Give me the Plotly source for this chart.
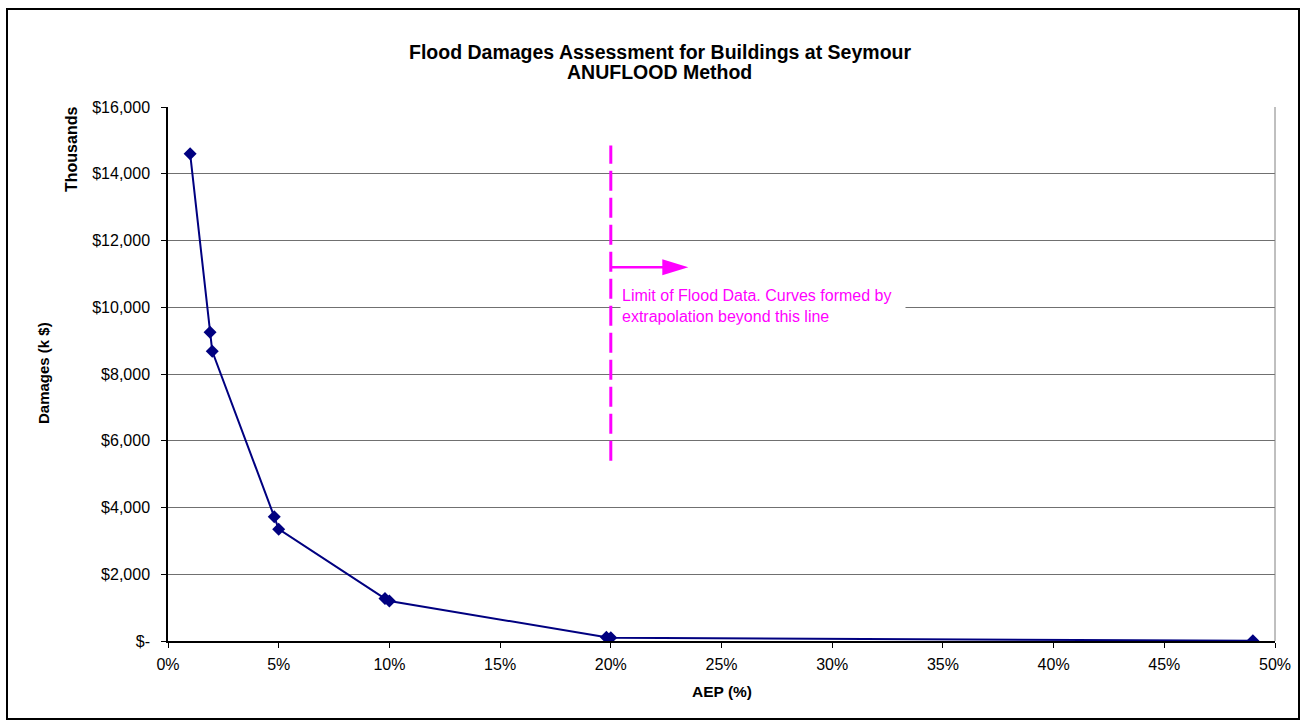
import plotly.graph_objects as go

# Annual exceedance probability (%) and building damages (thousands of $)
aep_pct = [1.0, 1.9, 2.0, 4.8, 5.0, 9.8, 10.0, 19.8, 20.0, 49.0]
damages_k = [14600, 9250, 8680, 3720, 3350, 1270, 1200, 110, 100, 5]

x_tick_vals = [0, 5, 10, 15, 20, 25, 30, 35, 40, 45, 50]
x_tick_text = ["0%", "5%", "10%", "15%", "20%", "25%", "30%", "35%", "40%", "45%", "50%"]
y_tick_vals = [0, 2000, 4000, 6000, 8000, 10000, 12000, 14000, 16000]
y_tick_text = ["$-", "$2,000", "$4,000", "$6,000", "$8,000", "$10,000", "$12,000", "$14,000", "$16,000"]

# Limit of recorded flood data and its marker line / arrow (data units)
limit_aep = 20
limit_line_span = [5400, 14850]
arrow_level = 11200
arrow_tip_aep = 23.5
note_level = 10050
note_text = "Limit of Flood Data. Curves formed by<br>extrapolation beyond this line"

W, H = 1305, 724
ML, MR, MT, MB = 168, 30, 107, 83
PW, PH = W - ML - MR, H - MT - MB


def px_x(px):
    return (px - ML) / PW


def px_y(py):
    return (H - MB - py) / PH


FONT = "Liberation Sans, Arial, sans-serif"
NAVY = "#000080"
MAGENTA = "#FF00FF"

fig = go.Figure()

fig.add_trace(go.Scatter(
    x=aep_pct, y=damages_k, mode="lines+markers",
    line=dict(color=NAVY, width=2),
    marker=dict(symbol="diamond", size=10, color=NAVY),
    showlegend=False, hoverinfo="x+y",
))

shapes = [
    # frame around the whole chart
    dict(type="rect", xref="paper", yref="paper",
         x0=px_x(7), x1=px_x(1299), y0=px_y(719), y1=px_y(9),
         line=dict(color="black", width=2)),
    # right edge of plot area
    dict(type="line", xref="paper", yref="paper", x0=1, x1=1, y0=0, y1=1,
         line=dict(color="#808080", width=1)),
    # dashed data-limit line
    dict(type="line", xref="x", yref="y", x0=limit_aep, x1=limit_aep,
         y0=limit_line_span[0], y1=limit_line_span[1],
         line=dict(color=MAGENTA, width=3, dash="20px,7px")),
    # arrow shaft
    dict(type="line", xref="x", yref="y", x0=limit_aep, x1=arrow_tip_aep - 1.1,
         y0=arrow_level, y1=arrow_level,
         line=dict(color=MAGENTA, width=2.5)),
    # arrow head
    dict(type="path", xref="x", yref="y", xsizemode="pixel", ysizemode="pixel",
         xanchor=arrow_tip_aep, yanchor=arrow_level,
         path="M 0 0 L -26 8 L -26 -8 Z",
         fillcolor=MAGENTA, line=dict(color=MAGENTA, width=0)),
]


def label(text, px, py, size, angle=0):
    return dict(text=text, x=px_x(px), y=px_y(py), xref="paper", yref="paper",
                xanchor="center", yanchor="middle", textangle=angle,
                showarrow=False, font=dict(size=size, color="black", family=FONT))


annotations = [
    label("<b>Flood Damages Assessment for Buildings at Seymour</b>", 660, 52, 19.5),
    label("<b>ANUFLOOD Method</b>", 659, 72, 19.5),
    label("<b>Damages (k $)</b>", 43, 373, 15, -90),
    label("<b>Thousands</b>", 71, 150, 16, -90),
    label("<b>AEP (%)</b>", 722, 691, 15.5),
    dict(text=note_text, x=limit_aep + 0.42, y=note_level, xref="x", yref="y",
         xanchor="left", yanchor="middle", align="left",
         width=282, bgcolor="white", borderpad=1, showarrow=False,
         font=dict(size=16, color=MAGENTA, family=FONT)),
]

fig.update_layout(
    width=W, height=H,
    margin=dict(l=ML, r=MR, t=MT, b=MB),
    paper_bgcolor="white", plot_bgcolor="white",
    font=dict(family=FONT, color="black", size=16),
    shapes=shapes, annotations=annotations,
    xaxis=dict(range=[0, 50], tickvals=x_tick_vals, ticktext=x_tick_text,
               showgrid=False, zeroline=False, showline=True,
               linecolor="black", linewidth=1.5,
               ticks="outside", ticklen=5, tickcolor="black", tickwidth=1,
               ticklabelstandoff=3, tickfont=dict(size=16)),
    yaxis=dict(range=[0, 16000], tickvals=y_tick_vals, ticktext=y_tick_text,
               showgrid=True, gridcolor="#707070", gridwidth=1,
               zeroline=False, showline=True,
               linecolor="black", linewidth=1.5,
               ticks="outside", ticklen=5, tickcolor="black", tickwidth=1,
               ticklabelstandoff=8, tickfont=dict(size=16)),
)

fig.write_html("out.html")
